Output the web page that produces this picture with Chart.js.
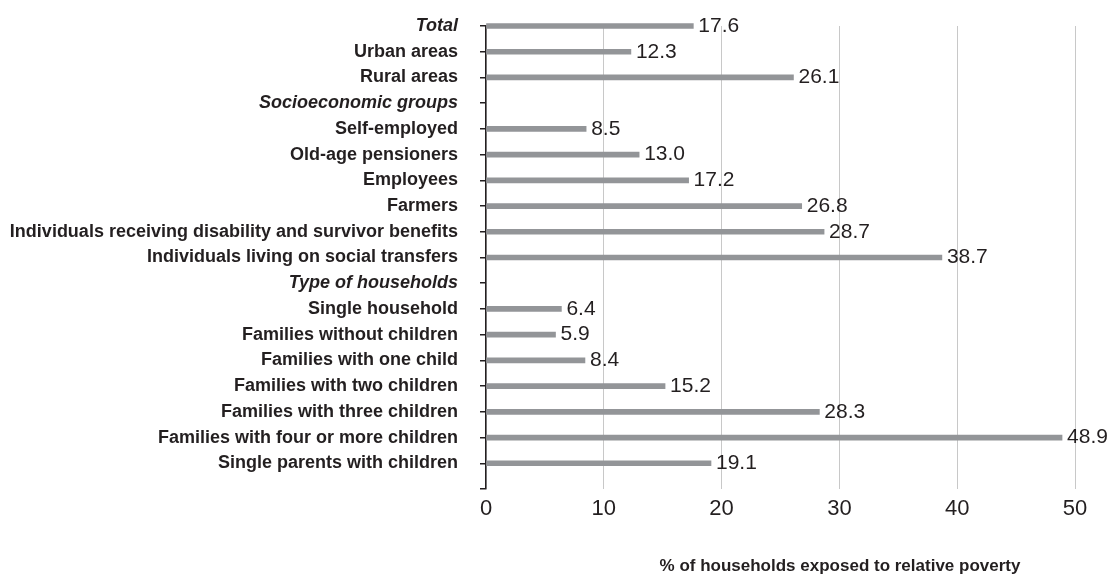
<!DOCTYPE html>
<html>
<head>
<meta charset="utf-8">
<script src="https://cdn.jsdelivr.net/npm/chart.js@4/dist/chart.umd.min.js"></script>
<style>
  html, body { margin: 0; padding: 0; background: #fff; }
  #wrap { width: 1114px; height: 574px; }
</style>
</head>
<body>
<div id="wrap"><canvas id="povertyChart" width="1114" height="574"></canvas></div>
<script>
const categories = [
    'Total', 'Urban areas', 'Rural areas', 'Socioeconomic groups',
    'Self-employed', 'Old-age pensioners', 'Employees', 'Farmers',
    'Individuals receiving disability and survivor benefits',
    'Individuals living on social transfers', 'Type of households',
    'Single household', 'Families without children', 'Families with one child',
    'Families with two children', 'Families with three children',
    'Families with four or more children', 'Single parents with children'
];
const headingRows = ['Total', 'Socioeconomic groups', 'Type of households'];
const povertyRates = [
    17.6, 12.3, 26.1, null,
    8.5, 13.0, 17.2, 26.8, 28.7, 38.7, null,
    6.4, 5.9, 8.4, 15.2, 28.3, 48.9, 19.1
];
const xTicks = [0, 10, 20, 30, 40, 50];
const xTitle = '% of households exposed to relative poverty';

const FONT = '"Liberation Sans", Arial, Helvetica, sans-serif';
const TEXT = '#231f20';

// empty slot at the end so the axis runs one step past the last bar
const labels = categories.concat(['']);
const values = povertyRates.concat([null]);

const valueLabels = {
    id: 'valueLabels',
    afterDatasetsDraw(chart) {
        const ctx = chart.ctx;
        const meta = chart.getDatasetMeta(0);
        ctx.save();
        ctx.font = '21px ' + FONT;
        ctx.fillStyle = TEXT;
        ctx.textAlign = 'left';
        ctx.textBaseline = 'middle';
        meta.data.forEach((bar, i) => {
            const v = values[i];
            if (v === null) return;
            ctx.fillText(v.toFixed(1), bar.x + 5, bar.y);
        });
        ctx.restore();
    }
};

const axisTitle = {
    id: 'axisTitle',
    afterDraw(chart) {
        const ctx = chart.ctx;
        ctx.save();
        ctx.font = 'bold 17px ' + FONT;
        ctx.fillStyle = TEXT;
        ctx.textAlign = 'center';
        ctx.textBaseline = 'middle';
        ctx.fillText(xTitle, 840, 566);
        ctx.restore();
    }
};

new Chart(document.getElementById('povertyChart'), {
    type: 'bar',
    data: {
        labels: labels,
        datasets: [{
            data: values,
            backgroundColor: '#939598',
            barThickness: 5,
            clip: false
        }]
    },
    options: {
        indexAxis: 'y',
        responsive: false,
        animation: false,
        layout: { padding: { top: 26, right: 39, bottom: 0, left: 0 } },
        plugins: {
            legend: { display: false },
            tooltip: { enabled: false }
        },
        scales: {
            x: {
                min: 0,
                max: 50,
                afterBuildTicks: (scale) => { scale.ticks = xTicks.map(v => ({ value: v })); },
                afterFit: (scale) => { scale.height = 85; },
                border: { display: false },
                grid: { color: '#c8c8c8', lineWidth: 1, drawTicks: false },
                ticks: { color: TEXT, font: { family: FONT, size: 22 }, padding: 7 }
            },
            y: {
                offset: false,
                afterFit: (scale) => {
                    scale.width = 486;
                    scale.paddingTop = 0;
                    scale.paddingBottom = 0;
                },
                border: { display: true, color: TEXT, width: 1.5 },
                grid: { offset: false, drawOnChartArea: false, drawTicks: true, tickLength: 6, color: TEXT, lineWidth: 1.5 },
                ticks: {
                    autoSkip: false,
                    color: TEXT,
                    padding: 22,
                    font: (c) => ({
                        family: FONT,
                        size: 18,
                        weight: 'bold',
                        style: headingRows.includes(labels[c.index]) ? 'italic' : 'normal'
                    })
                }
            }
        }
    },
    plugins: [valueLabels, axisTitle]
});
</script>
</body>
</html>
